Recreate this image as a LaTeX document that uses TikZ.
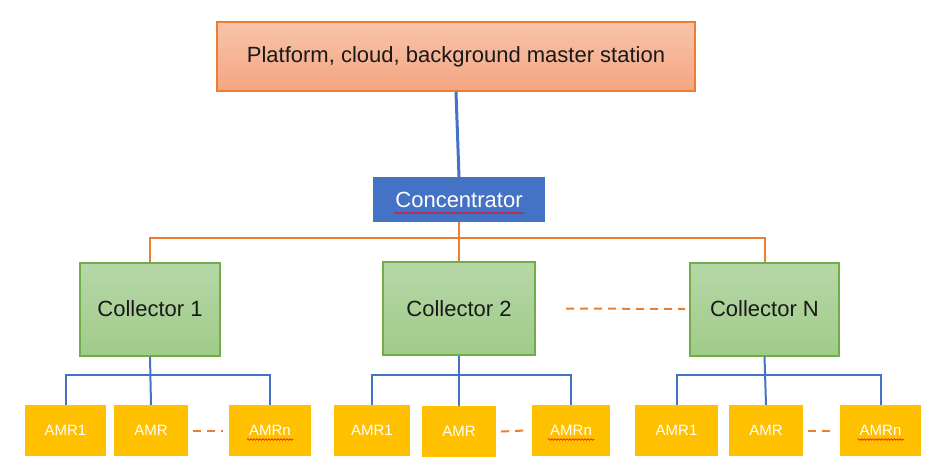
\documentclass[tikz,border=0pt]{standalone}
\usepackage{fontspec}
\setmainfont{Liberation Sans}
\usetikzlibrary{decorations.pathmorphing}
\definecolor{edgeorange}{HTML}{ED7D31}
\definecolor{edgeblue}{HTML}{4472C4}
\definecolor{edgegreen}{HTML}{70AD47}
\definecolor{amrgold}{HTML}{FFC000}

\tikzset{
  master/.style={draw=edgeorange, line width=2pt, top color={rgb,255:red,248;green,196;blue,170}, bottom color={rgb,255:red,244;green,165;blue,130}, minimum width=478pt, minimum height=69pt, inner sep=0pt, text=black!90, font=\fontsize{22}{26}\selectfont},
  hub/.style={fill=edgeblue, text=white, minimum width=172pt, minimum height=45pt, inner sep=0pt, font=\fontsize{22}{26}\selectfont},
  collector/.style={draw=edgegreen, line width=2pt, top color={rgb,255:red,182;green,215;blue,168}, bottom color={rgb,255:red,160;green,203;blue,136}, minimum height=93pt, inner sep=0pt, text=black!90, font=\fontsize{22}{26}\selectfont},
  amrbox/.style={fill=amrgold, text=white, minimum height=51pt, inner sep=0pt, font=\fontsize{15}{18}\selectfont},
  busline/.style={edgeorange, line width=2pt},
  treeline/.style={edgeblue, line width=2pt},
  gapline/.style={edgeorange, line width=2pt, dash pattern=on 8pt off 6pt},
  squiggle/.style={red, line width=0.6pt, decorate, decoration={snake, amplitude=0.8pt, segment length=3pt}},
}

\begin{document}
\begin{tikzpicture}[x=1pt, y=-1pt]
  \useasboundingbox (0,0) rectangle (944,467);

  % top levels
  \node[master] (plat) at (456,56.5) {Platform, cloud, background master station};
  \node[hub] (conc) at (459,199.5) {Concentrator};

  % collectors
  \node[collector, minimum width=140pt] (col1) at (150,309) {Collector 1};
  \node[collector, minimum width=152pt] (col2) at (459,308.5) {Collector 2};
  \node[collector, minimum width=149pt] (col3) at (764.5,309) {Collector N};

  % meters
  \node[amrbox, minimum width=81pt] (m1-l) at (65.5,430.5) {AMR1};
  \node[amrbox, minimum width=74pt] (m1-m) at (151,430.5) {AMR};
  \node[amrbox, minimum width=82pt] (m1-r) at (270,430.5) {AMRn};
  \node[amrbox, minimum width=76pt] (m2-l) at (372,430.5) {AMR1};
  \node[amrbox, minimum width=74pt] (m2-m) at (459,431.5) {AMR};
  \node[amrbox, minimum width=78pt] (m2-r) at (571,430.5) {AMRn};
  \node[amrbox, minimum width=83pt] (m3-l) at (676.5,430.5) {AMR1};
  \node[amrbox, minimum width=74pt] (m3-m) at (766,430.5) {AMR};
  \node[amrbox, minimum width=81pt] (m3-r) at (880.5,430.5) {AMRn};

  % links
  \draw[edgeblue, line width=3pt] (plat.south) -- (conc.north);
  \draw[busline] (conc.south) -- ++(0,16) coordinate (bus);
  \draw[busline] (col1.north) |- (bus) -| (col3.north);
  \draw[busline] (bus) -- (col2.north);
  \draw[gapline] ([xshift=30pt]col2.east) -- ([xshift=-4pt]col3.west);

  \foreach \i in {1,2,3} {
    \draw[treeline] (col\i.south) -- (m\i-m.north);
    \draw[treeline] (m\i-l.north) -- ++(0,-30) -| (m\i-r.north);
    \draw[gapline] ([xshift=5pt]m\i-m.east) -- ([xshift=-6pt]m\i-r.west);
    \draw[squiggle] ([shift={(-23,9)}]m\i-r.center) -- ++(46,0);
  }
  \draw[squiggle] ([shift={(-65,13.5)}]conc.center) -- ++(130,0);
\end{tikzpicture}
\end{document}
